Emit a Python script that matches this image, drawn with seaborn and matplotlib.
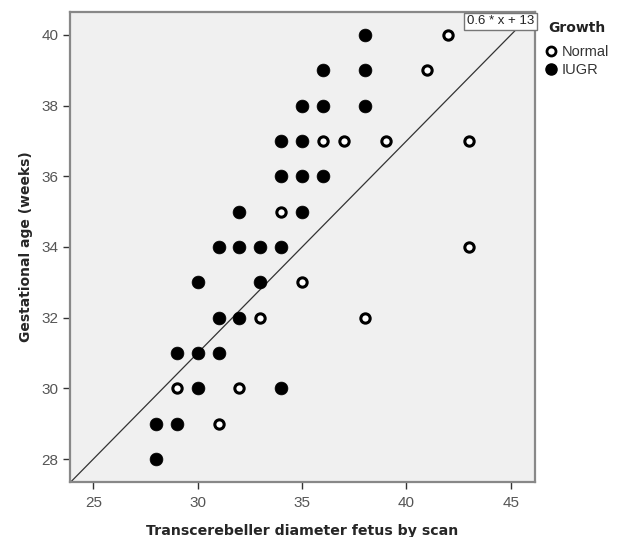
"""
Scatter: gestational age vs transcerebellar diameter, Normal vs IUGR
"""

import pandas as pd
import numpy as np
import matplotlib
matplotlib.use("Agg")
import matplotlib.pyplot as plt
import seaborn as sns
from matplotlib.lines import Line2D

# date
normal_tcd = [42, 41, 36, 37, 39, 43, 34, 43, 35, 33, 38, 29, 32, 31]
normal_ga = [40, 39, 37, 37, 37, 37, 35, 34, 33, 32, 32, 30, 30, 29]

iugr_tcd = [38, 36, 38, 35, 36, 38, 34, 35, 34, 35, 36, 32, 35,
            31, 32, 33, 34, 30, 33, 31, 32, 29, 30, 31, 30, 34, 28, 29, 28]
iugr_ga = [40, 39, 39, 38, 38, 38, 37, 37, 36, 36, 36, 35, 35,
           34, 34, 34, 34, 33, 33, 32, 32, 31, 31, 31, 30, 30, 29, 29, 28]

fit_slope = 0.6
fit_intercept = 13
x_ticks = [25, 30, 35, 40, 45]
y_ticks = [28, 30, 32, 34, 36, 38, 40]

df = pd.DataFrame({
    "tcd": normal_tcd + iugr_tcd,
    "ga": normal_ga + iugr_ga,
    "Growth": ["Normal"] * len(normal_tcd) + ["IUGR"] * len(iugr_tcd),
})

sns.set_style("white")
plt.rcParams["font.family"] = ["Liberation Sans", "DejaVu Sans"]

fig = plt.figure(figsize=(6.19, 5.37), dpi=100)
ax = fig.add_axes([0.113, 0.1024, 0.751, 0.8753])
ax.set_facecolor("#f0f0f0")

sns.scatterplot(data=df[df.Growth == "Normal"], x="tcd", y="ga", ax=ax,
                marker="o", s=45, color="white", edgecolor="black",
                linewidth=2.2, zorder=3)
sns.scatterplot(data=df[df.Growth == "IUGR"], x="tcd", y="ga", ax=ax,
                marker="o", s=85, color="black", edgecolor="black",
                linewidth=0.5, zorder=3)

ax.set_xlim(23.88, 46.15)
ax.set_ylim(27.35, 40.65)
ax.axline((0, fit_intercept), slope=fit_slope, color="#333333", lw=0.9, zorder=2)

ax.text(0.999, 0.993, "0.6 * x + 13", transform=ax.transAxes, ha="right", va="top",
        fontsize=9.5, color="#222222", zorder=5,
        bbox=dict(boxstyle="square,pad=0.2", fc="white", ec="#777777", lw=1))

ax.set_xticks(x_ticks)
ax.set_yticks(y_ticks)
ax.tick_params(direction="out", length=5, width=1, color="#333333",
               labelsize=11, labelcolor="#555555", bottom=True, left=True)
ax.tick_params(axis="x", pad=5)
for sp in ax.spines.values():
    sp.set_color("#888888")
    sp.set_linewidth(1.6)

ax.set_xlabel("Transcerebeller diameter fetus by scan", fontsize=10.2,
              fontweight="bold", family="DejaVu Sans", labelpad=10)
ax.set_ylabel("Gestational age (weeks)", fontsize=10,
              fontweight="bold", family="DejaVu Sans", labelpad=6)

# legenda
ax.text(1.028, 0.966, "Growth", transform=ax.transAxes, ha="left", va="center",
        fontsize=10, fontweight="bold", family="DejaVu Sans", color="#222222")
handles = [
    Line2D([], [], marker="o", ls="", markersize=6.5, markerfacecolor="white",
           markeredgecolor="black", markeredgewidth=2),
    Line2D([], [], marker="o", ls="", markersize=8, markerfacecolor="black",
           markeredgecolor="black"),
]
leg = ax.legend(handles, ["Normal", "IUGR"], loc="upper left",
                bbox_to_anchor=(1.022, 0.93), frameon=False, fontsize=10.5,
                handletextpad=0.35, handlelength=0.8, labelspacing=0.3,
                borderaxespad=0, borderpad=0)
for t in leg.get_texts():
    t.set_color("#333333")

plt.savefig("out.png", dpi=100)
